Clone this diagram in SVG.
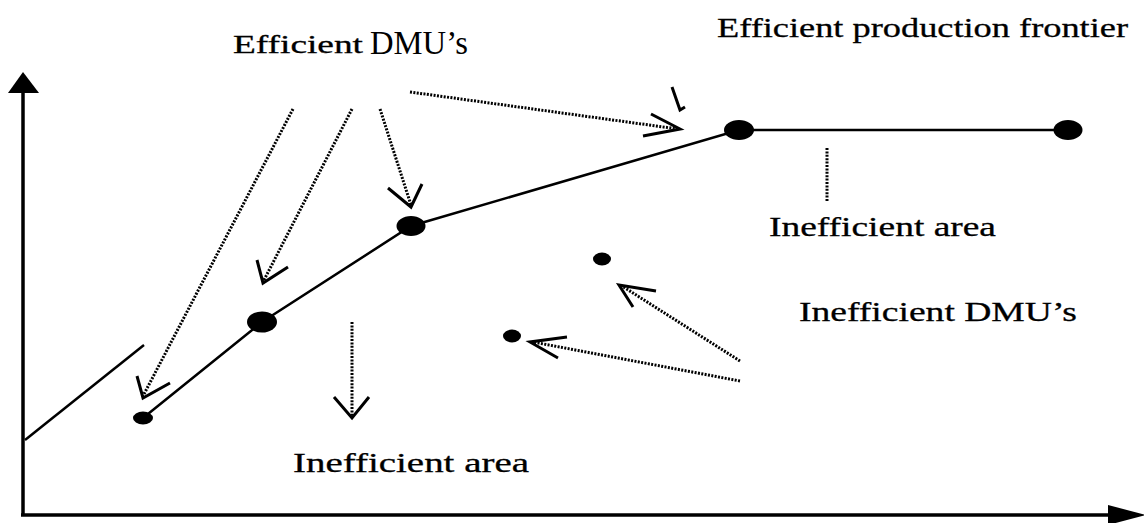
<svg xmlns="http://www.w3.org/2000/svg" width="1144" height="523" viewBox="0 0 1144 523">
  <style>
    .axis { stroke: #000; stroke-width: 3.5; fill: none; }
    .frontier { stroke: #000; stroke-width: 2.5; fill: none; }
    .dots { stroke: #000; stroke-width: 3; stroke-dasharray: 2 1.4; fill: none; }
    .head { stroke: #000; stroke-width: 3; fill: none; stroke-linecap: butt; stroke-linejoin: miter; }
    .dmu { fill: #000; }
    .label { font-family: "Liberation Serif", "Times New Roman", serif; fill: #000; stroke: #000; stroke-width: 0.3; }
    .plain { stroke: none; }
  </style>

  <rect width="1144" height="523" fill="#fff"/>

  <!-- axes -->
  <g id="axes">
    <line class="axis" x1="23" y1="516" x2="23" y2="90"/>
    <polygon points="23,72 8,93 39,93" fill="#000"/>
    <line class="axis" x1="21" y1="515" x2="1112" y2="515"/>
    <polygon points="1146,515 1108,505 1108,525" fill="#000"/>
  </g>

  <!-- frontier and shifted line -->
  <g id="connectors">
    <line class="frontier" x1="25" y1="440" x2="144" y2="345"/>
    <polyline class="frontier" points="143,418 262,322 411,226 739,130 1068,130"/>

    <!-- arrows from the "Efficient DMU's" label -->
    <line class="dots" x1="293" y1="109" x2="143" y2="396"/>
    <polyline class="head" points="137,376 143,398 170,383"/>
    <line class="dots" x1="352" y1="109" x2="263" y2="282"/>
    <polyline class="head" points="257,260 263,283 288,267"/>
    <line class="dots" x1="380" y1="109" x2="411" y2="205"/>
    <polyline class="head" points="388,188 411,207 422,184"/>
    <line class="dots" x1="410" y1="92" x2="678" y2="129"/>
    <polyline class="head" points="651,114 680,129 643,136"/>
    <polyline class="head" points="672,87 680,110 685,107"/>

    <!-- vertical tick below the flat frontier -->
    <line class="dots" x1="827" y1="148" x2="827" y2="202"/>

    <!-- downward arrow into the lower inefficient area -->
    <line class="dots" x1="352" y1="322" x2="352" y2="416"/>
    <polyline class="head" points="334,397 352,418 369,397"/>

    <!-- arrows from the "Inefficient DMU's" label -->
    <line class="dots" x1="740" y1="361" x2="622" y2="286"/>
    <polyline class="head" points="656,291 619,285 633,307"/>
    <line class="dots" x1="740" y1="381" x2="533" y2="342"/>
    <polyline class="head" points="567,337 530,342 558,358"/>
  </g>

  <!-- efficient DMUs on the frontier -->
  <g id="dmu-e1"><ellipse class="dmu" cx="143" cy="418" rx="10" ry="6.5"/></g>
  <g id="dmu-e2"><ellipse class="dmu" cx="262" cy="322" rx="15" ry="10.5"/></g>
  <g id="dmu-e3"><ellipse class="dmu" cx="411" cy="226" rx="14.5" ry="10"/></g>
  <g id="dmu-e4"><ellipse class="dmu" cx="739" cy="130" rx="15" ry="10"/></g>
  <g id="dmu-e5"><ellipse class="dmu" cx="1068" cy="130" rx="14.5" ry="10"/></g>

  <!-- inefficient DMUs -->
  <g id="dmu-i1"><ellipse class="dmu" cx="602" cy="259" rx="9" ry="6.5"/></g>
  <g id="dmu-i2"><ellipse class="dmu" cx="512" cy="336" rx="9" ry="6.5"/></g>

  <!-- labels -->
  <g id="label-efficient-dmus">
    <text class="label" x="233" y="53" font-size="25" textLength="130" lengthAdjust="spacingAndGlyphs">Efficient</text>
    <text class="label plain" x="370" y="54" font-size="34" textLength="98" lengthAdjust="spacingAndGlyphs">DMU’s</text>
  </g>
  <g id="label-frontier">
    <text class="label" x="717" y="37" font-size="28" textLength="411" lengthAdjust="spacingAndGlyphs">Efficient production frontier</text>
  </g>
  <g id="label-inefficient-area-right">
    <text class="label" x="769" y="236" font-size="28" textLength="227" lengthAdjust="spacingAndGlyphs">Inefficient area</text>
  </g>
  <g id="label-inefficient-dmus">
    <text class="label" x="799" y="321" font-size="28" textLength="278" lengthAdjust="spacingAndGlyphs">Inefficient DMU’s</text>
  </g>
  <g id="label-inefficient-area-bottom">
    <text class="label" x="293" y="472" font-size="28" textLength="236" lengthAdjust="spacingAndGlyphs">Inefficient area</text>
  </g>
</svg>
